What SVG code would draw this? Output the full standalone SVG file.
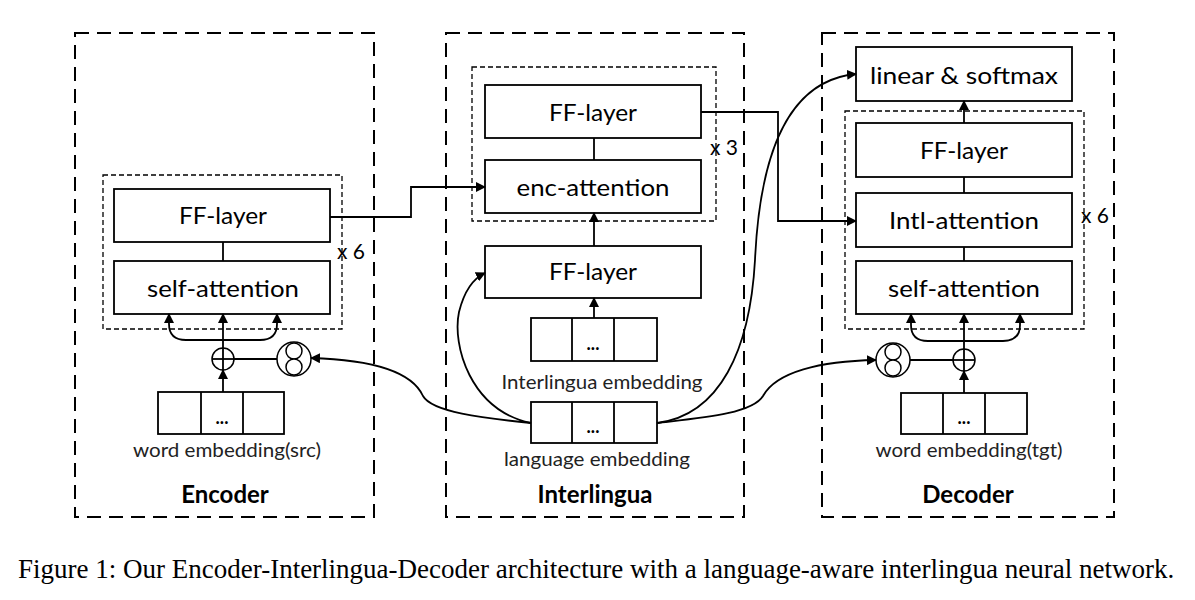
<svg xmlns="http://www.w3.org/2000/svg" width="1195" height="600" viewBox="0 0 1195 600">
<defs>
<marker id="ah" viewBox="0 0 10 10" refX="9" refY="5" markerWidth="10" markerHeight="10" markerUnits="userSpaceOnUse" orient="auto">
<path d="M0,0 L10,5 L0,10 z" fill="#000"/>
</marker>
</defs>
<style>
.outer{fill:none;stroke:#000;stroke-width:2;stroke-dasharray:14 8}
.inner{fill:none;stroke:#000;stroke-width:1.3;stroke-dasharray:5 3}
.box{fill:#fff;stroke:#000;stroke-width:1.8}
.lbl{font-family:Lato,"Liberation Sans",sans-serif;font-size:24px;fill:#000;text-anchor:middle}
.sm{font-family:Lato,"Liberation Sans",sans-serif;font-size:19px;fill:#222;text-anchor:middle}
.title{font-family:Lato,"Liberation Sans",sans-serif;font-size:24px;font-weight:bold;fill:#000;text-anchor:middle}
.rep{font-family:Lato,"Liberation Sans",sans-serif;font-size:21px;fill:#000}
.dots{font-family:Lato,"Liberation Sans",sans-serif;font-size:18px;font-weight:bold;fill:#000;text-anchor:middle}
.ln{fill:none;stroke:#000;stroke-width:1.8}
.arr{fill:none;stroke:#000;stroke-width:1.8;marker-end:url(#ah)}
.cir{fill:#fff;stroke:#000;stroke-width:1.5}
.cap{font-family:"Liberation Serif","Times New Roman",serif;font-size:27px;fill:#000}
</style>
<rect width="1195" height="600" fill="#fff"/>

<g id="encoder">
<rect class="outer" x="75" y="33" width="299" height="484"/>
<rect class="inner" x="103" y="175" width="239" height="154"/>
<g id="enc-ff"><rect class="box" x="114" y="189" width="216" height="53"/><text class="lbl" x="223" y="224" textLength="88" lengthAdjust="spacingAndGlyphs">FF-layer</text></g>
<g id="enc-self"><rect class="box" x="114" y="261" width="216" height="53"/><text class="lbl" x="223" y="297" textLength="152" lengthAdjust="spacingAndGlyphs">self-attention</text></g>
<text class="rep" x="337" y="259">x 6</text>
<g id="enc-emb"><rect class="box" x="158" y="392" width="126" height="42"/><line class="ln" x1="201" y1="392" x2="201" y2="434"/><line class="ln" x1="243" y1="392" x2="243" y2="434"/><text class="dots" x="222" y="424">...</text></g>
<text class="sm" x="227" y="457" textLength="188" lengthAdjust="spacingAndGlyphs">word embedding(src)</text>
<text class="title" x="225" y="503">Encoder</text>
<g id="enc-plus"><circle class="cir" cx="223" cy="359" r="11"/><line class="ln" x1="212" y1="359" x2="234" y2="359" stroke-width="1.3"/><line class="ln" x1="223" y1="348" x2="223" y2="370" stroke-width="1.3"/></g>
<g id="enc-mul"><circle class="cir" cx="294" cy="359" r="17"/><circle class="cir" cx="294" cy="351" r="8"/><circle class="cir" cx="294" cy="367" r="8"/></g>
</g>

<g id="interlingua">
<rect class="outer" x="446" y="33" width="298" height="484"/>
<rect class="inner" x="472" y="67" width="244" height="154"/>
<g id="int-ff-top"><rect class="box" x="485" y="85" width="216" height="53"/><text class="lbl" x="593" y="121" textLength="88" lengthAdjust="spacingAndGlyphs">FF-layer</text></g>
<g id="int-enc-att"><rect class="box" x="485" y="160" width="216" height="53"/><text class="lbl" x="593" y="196" textLength="153" lengthAdjust="spacingAndGlyphs">enc-attention</text></g>
<text class="rep" x="710" y="155">x 3</text>
<g id="int-ff-low"><rect class="box" x="485" y="246" width="216" height="52"/><text class="lbl" x="593" y="280" textLength="88" lengthAdjust="spacingAndGlyphs">FF-layer</text></g>
<g id="int-emb"><rect class="box" x="531" y="318" width="126" height="43"/><line class="ln" x1="572" y1="318" x2="572" y2="361"/><line class="ln" x1="614" y1="318" x2="614" y2="361"/><text class="dots" x="593" y="350">...</text></g>
<text class="sm" x="602" y="389" textLength="201" lengthAdjust="spacingAndGlyphs">Interlingua embedding</text>
<g id="lang-emb"><rect class="box" x="531" y="402" width="126" height="41"/><line class="ln" x1="572" y1="402" x2="572" y2="443"/><line class="ln" x1="614" y1="402" x2="614" y2="443"/><text class="dots" x="593" y="433">...</text></g>
<text class="sm" x="597" y="466" textLength="186" lengthAdjust="spacingAndGlyphs">language embedding</text>
<text class="title" x="595" y="503">Interlingua</text>
</g>

<g id="decoder">
<rect class="outer" x="822" y="33" width="292" height="484"/>
<g id="dec-out"><rect class="box" x="856" y="47" width="216" height="54"/><text class="lbl" x="964" y="84" textLength="188" lengthAdjust="spacingAndGlyphs">linear &amp; softmax</text></g>
<rect class="inner" x="845" y="111" width="239" height="218"/>
<g id="dec-ff"><rect class="box" x="856" y="123" width="216" height="54"/><text class="lbl" x="964" y="159" textLength="88" lengthAdjust="spacingAndGlyphs">FF-layer</text></g>
<g id="dec-intl"><rect class="box" x="856" y="193" width="216" height="54"/><text class="lbl" x="964" y="229" textLength="150" lengthAdjust="spacingAndGlyphs">Intl-attention</text></g>
<g id="dec-self"><rect class="box" x="856" y="261" width="216" height="53"/><text class="lbl" x="964" y="297" textLength="152" lengthAdjust="spacingAndGlyphs">self-attention</text></g>
<text class="rep" x="1081" y="223">x 6</text>
<g id="dec-emb"><rect class="box" x="901" y="393" width="126" height="41"/><line class="ln" x1="943" y1="393" x2="943" y2="434"/><line class="ln" x1="985" y1="393" x2="985" y2="434"/><text class="dots" x="964" y="424">...</text></g>
<text class="sm" x="969" y="457" textLength="187" lengthAdjust="spacingAndGlyphs">word embedding(tgt)</text>
<text class="title" x="968" y="503">Decoder</text>
<g id="dec-plus"><circle class="cir" cx="964" cy="360" r="11"/><line class="ln" x1="953" y1="360" x2="975" y2="360" stroke-width="1.3"/><line class="ln" x1="964" y1="349" x2="964" y2="371" stroke-width="1.3"/></g>
<g id="dec-mul"><circle class="cir" cx="893" cy="360" r="17"/><circle class="cir" cx="893" cy="352" r="8"/><circle class="cir" cx="893" cy="368" r="8"/></g>
</g>

<g id="connectors">
<line class="ln" x1="223" y1="242" x2="223" y2="261"/>
<line class="arr" x1="223" y1="392" x2="223" y2="370"/>
<line class="arr" x1="223" y1="348" x2="223" y2="314"/>
<path class="arr" d="M223,340 H186 Q169,340 169,324 V314"/>
<path class="arr" d="M223,340 H260 Q277,340 277,324 V314"/>
<line class="ln" x1="277" y1="359" x2="234" y2="359"/>
<line class="ln" x1="594" y1="138" x2="594" y2="160"/>
<line class="arr" x1="594" y1="246" x2="594" y2="213"/>
<line class="arr" x1="594" y1="318" x2="594" y2="298"/>
<line class="arr" x1="964" y1="123" x2="964" y2="101"/>
<line class="ln" x1="964" y1="177" x2="964" y2="193"/>
<line class="ln" x1="964" y1="247" x2="964" y2="261"/>
<line class="arr" x1="964" y1="393" x2="964" y2="371"/>
<line class="arr" x1="964" y1="349" x2="964" y2="314"/>
<path class="arr" d="M964,341 H928 Q911,341 911,325 V314"/>
<path class="arr" d="M964,341 H1003 Q1020,341 1020,325 V314"/>
<line class="ln" x1="910" y1="360" x2="953" y2="360"/>
<path class="arr" d="M330,217 H411 V187 H485"/>
<path class="arr" d="M701,112 H778 V221 H856"/>
<path class="arr" d="M657,423 C720,415 750,350 755,260 C760,150 790,80 856,74"/>
<path class="arr" d="M657,423 C700,418 752,414 763,396 C776,372 820,361 876,360"/>
<path class="arr" d="M531,423 C470,410 452,345 459,312 C464,292 472,279 485,273"/>
<path class="arr" d="M531,423 C482,418 432,412 423,396 C413,374 380,360 311,358"/>
</g>

<text class="cap" x="18" y="578">Figure 1: Our Encoder-Interlingua-Decoder architecture with a language-aware interlingua neural network.</text>
</svg>
